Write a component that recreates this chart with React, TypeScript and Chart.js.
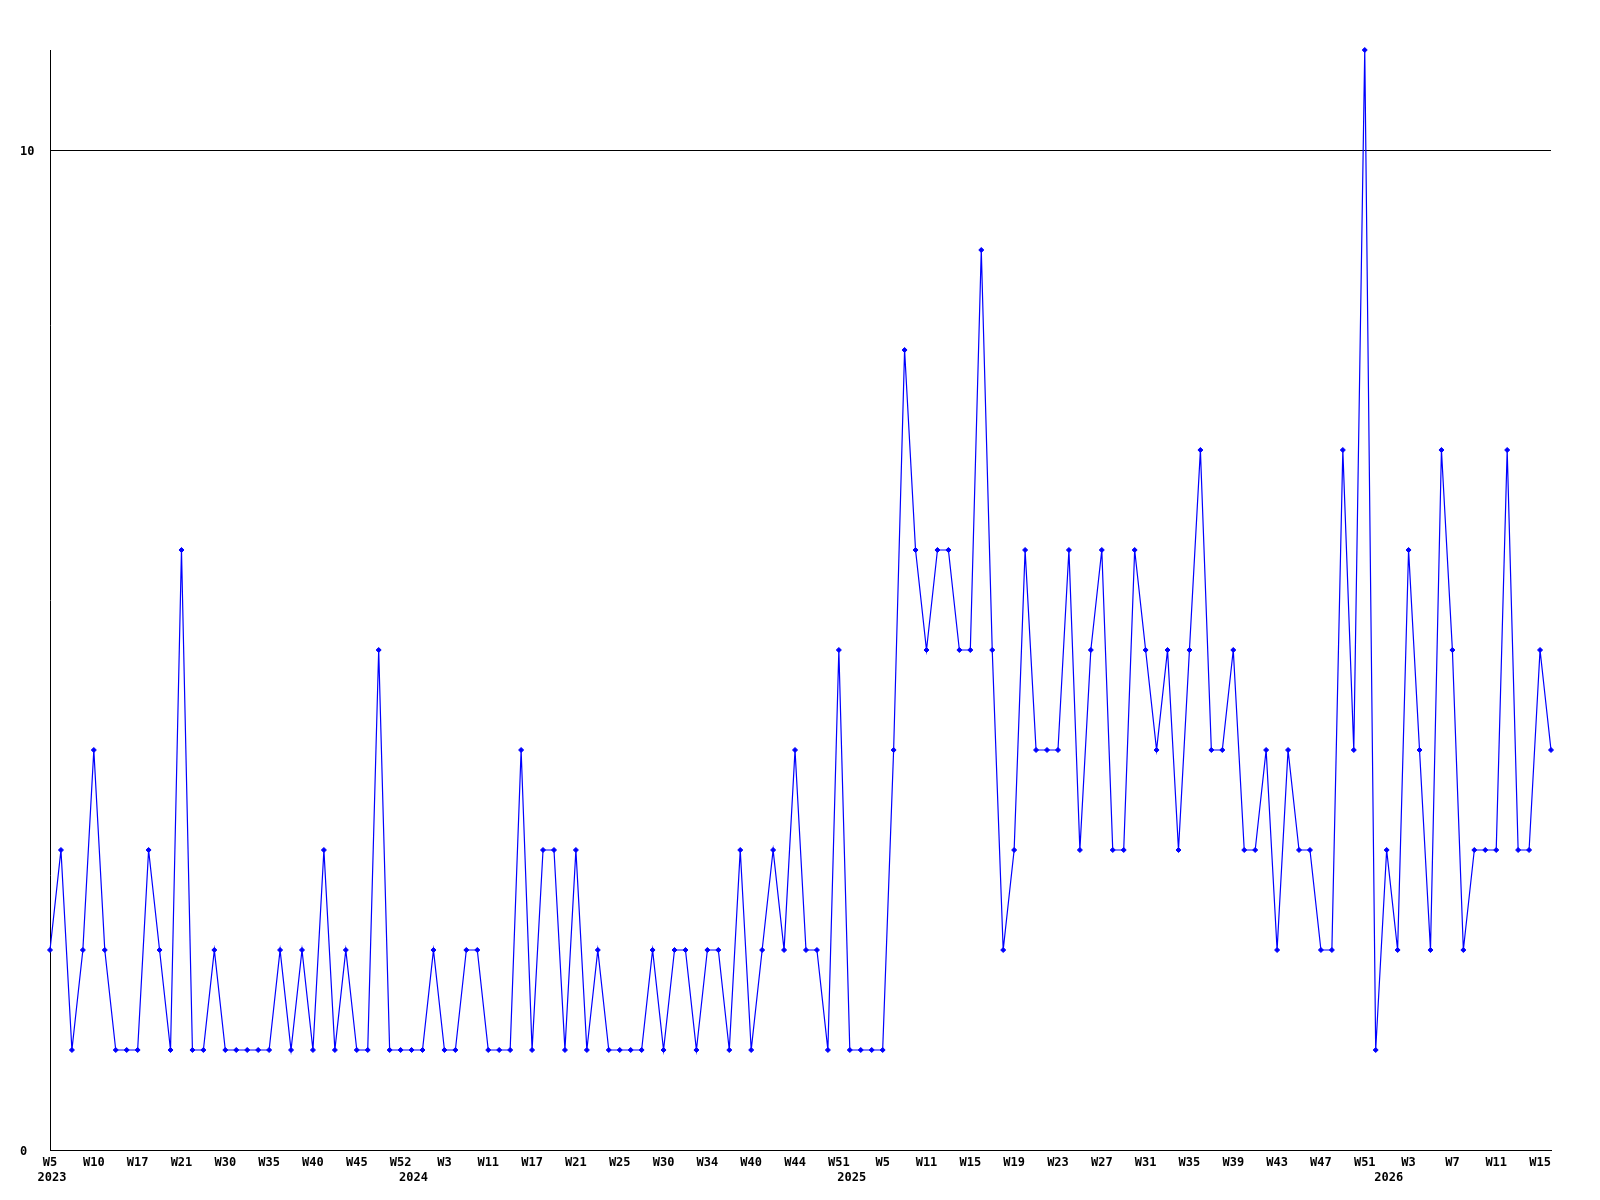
import React, { useEffect, useRef } from 'react';
import { Chart, registerables } from 'chart.js';

Chart.register(...registerables);

// Tick labels shown every 4th point on the week axis
const weekTicks = [
  'W5', 'W10', 'W17', 'W21', 'W30', 'W35', 'W40', 'W45', 'W52',
  'W3', 'W11', 'W17', 'W21', 'W25', 'W30', 'W34', 'W40', 'W44', 'W51',
  'W5', 'W11', 'W15', 'W19', 'W23', 'W27', 'W31', 'W35', 'W39', 'W43', 'W47', 'W51',
  'W3', 'W7', 'W11', 'W15',
];
const tickEvery = 4;

// Year labels and the point index at which each year starts
const yearLabels = ['2023', '2024', '2025', '2026'];
const yearStartIndex = [0, 33, 73, 122];

// Weekly counts
const values = [
  2, 3, 1, 2, 4, 2, 1, 1, 1, 3,
  2, 1, 6, 1, 1, 2, 1, 1, 1, 1,
  1, 2, 1, 2, 1, 3, 1, 2, 1, 1,
  5, 1, 1, 1, 1, 2, 1, 1, 2, 2,
  1, 1, 1, 4, 1, 3, 3, 1, 3, 1,
  2, 1, 1, 1, 1, 2, 1, 2, 2, 1,
  2, 2, 1, 3, 1, 2, 3, 2, 4, 2,
  2, 1, 5, 1, 1, 1, 1, 4, 8, 6,
  5, 6, 6, 5, 5, 9, 5, 2, 3, 6,
  4, 4, 4, 6, 3, 5, 6, 3, 3, 6,
  5, 4, 5, 3, 5, 7, 4, 4, 5, 3,
  3, 4, 2, 4, 3, 3, 2, 2, 7, 4,
  11, 1, 3, 2, 6, 4, 2, 7, 5, 2,
  3, 3, 3, 7, 3, 3, 5, 4,
];

const yTicks = [0, 10];
const yMin = 0;
const yMax = 11;

const categories = values.map((_, i) => (i % tickEvery === 0 ? weekTicks[i / tickEvery] ?? '' : ''));
const yearRow = values.map((_, i) => {
  const k = yearStartIndex.indexOf(i);
  return k >= 0 ? yearLabels[k] : '';
});

const tickFont = { family: "'DejaVu Sans Mono', monospace", size: 12, weight: 'bold' as const };

export default function App() {
  const ref = useRef<HTMLCanvasElement | null>(null);

  useEffect(() => {
    if (!ref.current) return;
    const chart = new Chart(ref.current, {
      type: 'line',
      data: {
        labels: categories,
        datasets: [
          {
            data: values,
            borderColor: '#0000ff',
            backgroundColor: '#0000ff',
            borderWidth: 1.2,
            tension: 0,
            pointStyle: 'rectRot',
            pointRadius: 2.5,
            pointBorderWidth: 1,
            pointBorderColor: '#0000ff',
            pointBackgroundColor: '#0000ff',
            fill: false,
            clip: false as any,
          },
        ],
      },
      options: {
        animation: false,
        responsive: false,
        devicePixelRatio: 1,
        layout: { padding: { left: 20, top: 50, right: 49, bottom: 0 } },
        plugins: { legend: { display: false }, tooltip: { enabled: false } },
        scales: {
          x: {
            type: 'category',
            position: 'bottom',
            weight: 0,
            offset: false,
            grid: { display: false, drawTicks: false },
            border: { display: true, color: '#000000', width: 1 },
            ticks: {
              autoSkip: false,
              maxRotation: 0,
              minRotation: 0,
              padding: 6,
              color: '#000000',
              font: tickFont,
            },
            afterFit: (axis: any) => {
              axis.height = 20;
            },
          },
          x2: {
            type: 'category',
            position: 'bottom',
            weight: 1,
            offset: false,
            labels: yearRow,
            grid: { display: false, drawTicks: false },
            border: { display: false },
            ticks: {
              autoSkip: false,
              maxRotation: 0,
              minRotation: 0,
              padding: 1,
              labelOffset: 2,
              color: '#000000',
              font: tickFont,
            },
            afterFit: (axis: any) => {
              axis.height = 30;
            },
          },
          y: {
            type: 'linear',
            min: yMin,
            max: yMax,
            grid: { display: true, color: '#000000', lineWidth: 1, drawTicks: false },
            border: { display: true, color: '#000000', width: 1 },
            ticks: {
              crossAlign: 'far',
              padding: 0,
              labelOffset: 2,
              color: '#000000',
              font: tickFont,
            },
            afterBuildTicks: (axis: any) => {
              axis.ticks = yTicks.map((v) => ({ value: v }));
            },
            afterFit: (axis: any) => {
              axis.width = 30;
            },
          },
        },
      },
    });
    return () => chart.destroy();
  }, []);

  return (
    <div style={{ position: 'absolute', left: 0, top: 0, width: 1600, height: 1200, background: '#ffffff' }}>
      <canvas ref={ref} width={1600} height={1200} style={{ width: 1600, height: 1200, display: 'block' }} />
    </div>
  );
}
